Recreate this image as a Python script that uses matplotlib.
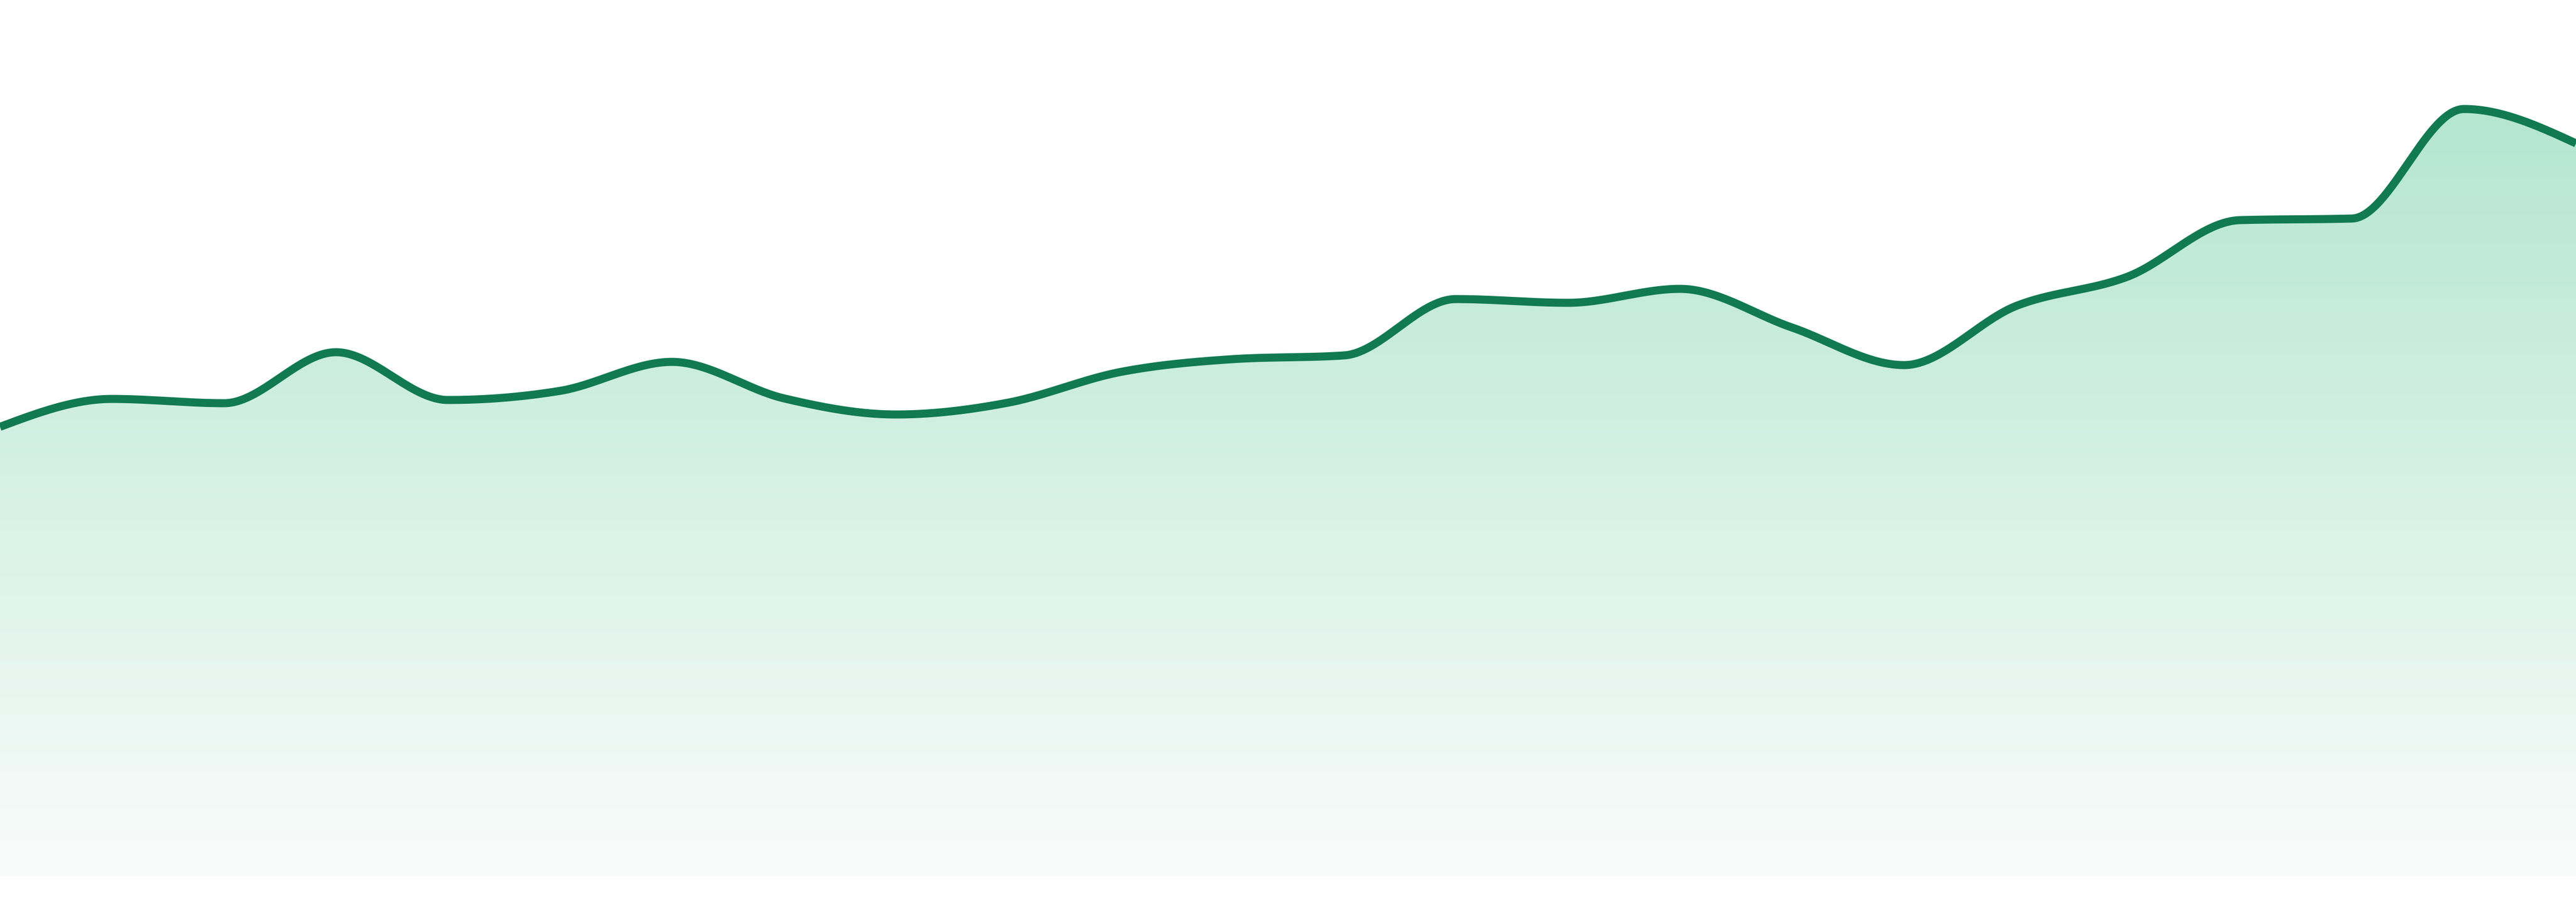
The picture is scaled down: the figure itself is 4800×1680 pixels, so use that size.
import numpy as np
import matplotlib
matplotlib.use("Agg")
import matplotlib.pyplot as plt
from matplotlib.patches import Polygon

# data (arbitrary units)
labels = list(range(24))
values = [83.7, 88.9, 88.1, 97.6, 88.7, 90.4, 95.8, 89.0, 86.0, 88.2, 93.9, 96.3,
          97.0, 107.5, 106.8, 109.4, 102.2, 95.2, 106.2, 111.7, 122.2, 122.5, 142.9, 136.5]

line_color = "#117a51"
top_rgb = (180, 230, 208)
bottom_rgb = (249, 252, 251)


def monotone_curve(x, y, steps=60):
    x = np.asarray(x, float)
    y = np.asarray(y, float)
    n = len(x)
    h = np.diff(x)
    s = np.diff(y) / h
    t = np.zeros(n)
    sgn = lambda v: -1.0 if v < 0 else 1.0
    for i in range(1, n - 1):
        p = (s[i - 1] * h[i] + s[i] * h[i - 1]) / (h[i - 1] + h[i])
        t[i] = (sgn(s[i - 1]) + sgn(s[i])) * min(abs(s[i - 1]), abs(s[i]), 0.5 * abs(p)) or 0.0
    t[0] = (3 * s[0] - t[1]) / 2
    t[-1] = (3 * s[-1] - t[-2]) / 2
    xs, ys = [], []
    u = np.linspace(0, 1, steps)
    for i in range(n - 1):
        dx = (x[i + 1] - x[i]) / 3
        p0 = (x[i], y[i])
        p1 = (x[i] + dx, y[i] + dx * t[i])
        p2 = (x[i + 1] - dx, y[i + 1] - dx * t[i + 1])
        p3 = (x[i + 1], y[i + 1])
        bx = (1 - u) ** 3 * p0[0] + 3 * (1 - u) ** 2 * u * p1[0] + 3 * (1 - u) * u ** 2 * p2[0] + u ** 3 * p3[0]
        by = (1 - u) ** 3 * p0[1] + 3 * (1 - u) ** 2 * u * p1[1] + 3 * (1 - u) * u ** 2 * p2[1] + u ** 3 * p3[1]
        if i > 0:
            bx, by = bx[1:], by[1:]
        xs.append(bx)
        ys.append(by)
    return np.concatenate(xs), np.concatenate(ys)


fig = plt.figure(figsize=(48, 16.8), dpi=100)
ax = fig.add_axes([0, 0, 1, 1])
ax.set_xlim(labels[0], labels[-1])
ax.set_ylim(-4.8, 163.2)
ax.axis("off")

cx, cy = monotone_curve(labels, values)

# gradient fill clipped to the area under the curve
top = max(values)
grad = np.linspace(0, 1, 512)[:, None]
rgb = np.array(top_rgb)[None, :] * (1 - grad) + np.array(bottom_rgb)[None, :] * grad
img = np.repeat((rgb / 255.0)[:, None, :], 2, axis=1)
im = ax.imshow(img, extent=[labels[0], labels[-1], 0, top], aspect="auto",
               origin="upper", zorder=1, interpolation="bilinear")
poly_xy = np.column_stack([np.r_[cx, cx[-1], cx[0]], np.r_[cy, 0, 0]])
clip = Polygon(poly_xy, closed=True, facecolor="none", edgecolor="none")
ax.add_patch(clip)
im.set_clip_path(clip)

ax.plot(cx, cy, color=line_color, lw=10.8, solid_capstyle="butt", solid_joinstyle="round", zorder=3)

fig.savefig("out.png", dpi=100, facecolor="white")
